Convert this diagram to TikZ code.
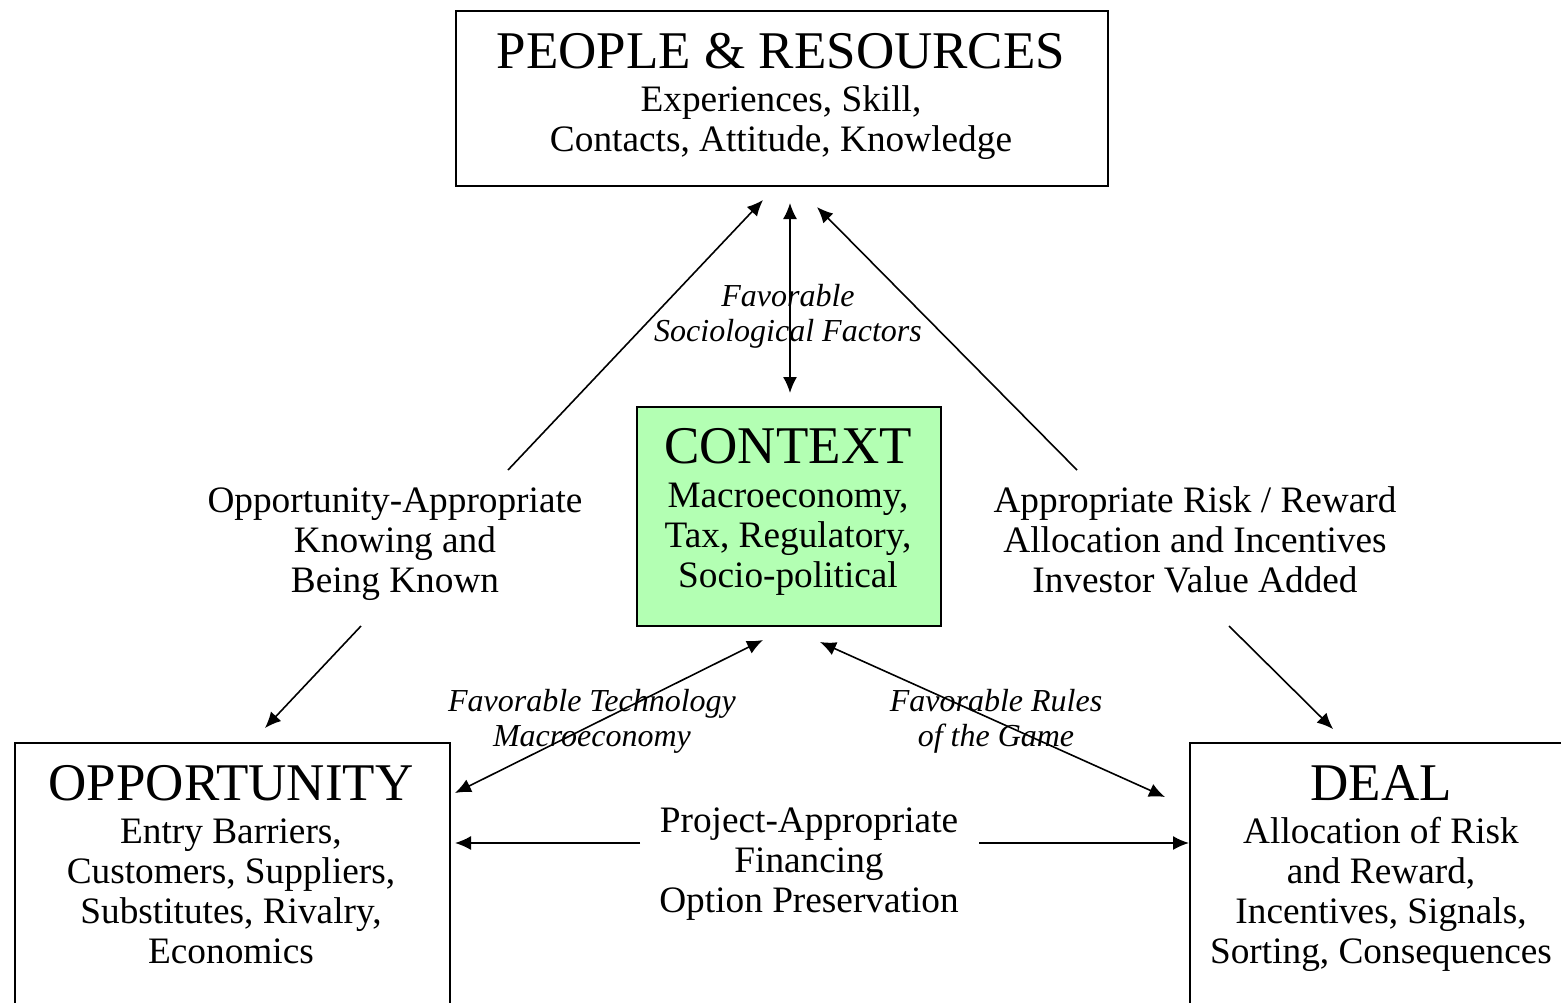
\documentclass[tikz,border=0pt]{standalone}
\usepackage{fontspec}
\setmainfont{Liberation Serif}
\usetikzlibrary{arrows.meta}
\definecolor{ctxgreen}{RGB}{179,255,179}
\begin{document}
\begin{tikzpicture}[x=1pt,y=-1pt,
  box/.style={draw, line width=1.8pt, inner sep=0pt, anchor=north west},
  title/.style={anchor=base, inner sep=0pt, font=\fontsize{53}{60}\selectfont},
  body/.style={anchor=base, inner sep=0pt, align=center, font=\fontsize{37.3}{40}\selectfont},
  ital/.style={anchor=base, inner sep=0pt, align=center, font=\fontsize{32}{34.5}\selectfont\itshape},
  arr/.style={line width=1.6pt, -{Latex[length=16pt,width=14pt]}},
  darr/.style={line width=1.6pt, {Latex[length=16pt,width=14pt]}-{Latex[length=16pt,width=14pt]}},
]
\useasboundingbox (0,0) rectangle (1561,1002);

% boxes
\node[box, minimum width=652pt, minimum height=175pt] (pr) at (455,10) {};
\node[box, fill=ctxgreen, minimum width=304pt, minimum height=219pt] (ctx) at (636,406) {};
\node[box, minimum width=435pt, minimum height=280pt] (opp) at (14,742) {};
\node[box, minimum width=390pt, minimum height=280pt] (deal) at (1189,742) {};

% box texts
\node[title] (prT) at (781,68) {PEOPLE \& RESOURCES};
\node[body] (prB) at (781,151) {Experiences, Skill,\\Contacts, Attitude, Knowledge};
\node[title] (ctxT) at (788,463) {CONTEXT};
\node[body] (ctxB) at (788,587) {Macroeconomy,\\Tax, Regulatory,\\Socio-political};
\node[title] (oppT) at (231,800) {OPPORTUNITY};
\node[body] (oppB) at (231,963) {Entry Barriers,\\Customers, Suppliers,\\Substitutes, Rivalry,\\Economics};
\node[title] (dealT) at (1381,800) {DEAL};
\node[body] (dealB) at (1381,963) {Allocation of Risk\\and Reward,\\Incentives, Signals,\\Sorting, Consequences};

% labels
\node[body] (lblL) at (395,592) {Opportunity-Appropriate\\Knowing and\\Being Known};
\node[body] (lblR) at (1195,592) {Appropriate Risk / Reward\\Allocation and Incentives\\Investor Value Added};
\node[body] (lblF) at (809,912) {Project-Appropriate\\Financing\\Option Preservation};
\node[ital] (lblS) at (788,341) {Favorable\\Sociological Factors};
\node[ital] (lblT) at (592,746) {Favorable Technology\\Macroeconomy};
\node[ital] (lblG) at (996,746) {Favorable Rules\\of the Game};

% connector end points
\coordinate (a1s) at (508,470); \coordinate (a1e) at (763,200);
\coordinate (a2s) at (790,203); \coordinate (a2e) at (790,393);
\coordinate (a3s) at (1077,470); \coordinate (a3e) at (817,207);
\coordinate (a4s) at (361,626); \coordinate (a4e) at (265,728);
\coordinate (a5s) at (1229,626); \coordinate (a5e) at (1333,729);
\coordinate (a6s) at (763,640); \coordinate (a6e) at (455,793);
\coordinate (a7s) at (820,642); \coordinate (a7e) at (1165,797);
\coordinate (a8s) at (640,843); \coordinate (a8e) at (455,843);
\coordinate (a9s) at (979,843); \coordinate (a9e) at (1189,843);

\draw[arr] (a1s) -- (a1e);
\draw[darr] (a2s) -- (a2e);
\draw[arr] (a3s) -- (a3e);
\draw[arr] (a4s) -- (a4e);
\draw[arr] (a5s) -- (a5e);
\draw[darr] (a6s) -- (a6e);
\draw[darr] (a7s) -- (a7e);
\draw[arr] (a8s) -- (a8e);
\draw[arr] (a9s) -- (a9e);
\end{tikzpicture}
\end{document}
